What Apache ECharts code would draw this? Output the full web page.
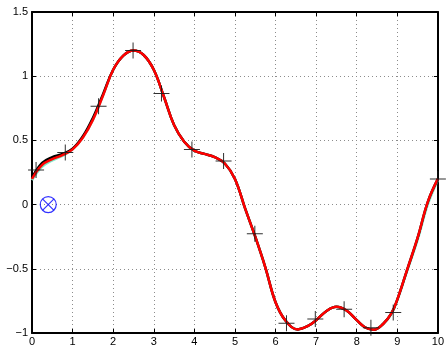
<!DOCTYPE html>
<html>
<head>
<meta charset="utf-8">
<script src="https://cdn.jsdelivr.net/npm/echarts@6/dist/echarts.min.js"></script>
<style>html,body{margin:0;padding:0;background:#fff}#c{width:447px;height:347px}</style>
</head>
<body>
<div id="c"></div>
<script>
// ---- data ----
var curveX = [0,0.25,0.5,0.75,1.0,1.25,1.5,1.75,2.0,2.25,2.5,2.75,3.0,3.25,3.5,3.75,4.0,4.25,4.5,4.75,5.0,5.25,5.5,5.75,6.0,6.25,6.55,6.8,7.0,7.25,7.5,7.75,8.0,8.2,8.42,8.65,8.85,9.0,9.25,9.5,9.75,10];
var redY   = [0.2,0.31,0.355,0.385,0.43,0.52,0.66,0.85,1.05,1.16,1.2,1.165,1.05,0.84,0.62,0.49,0.42,0.395,0.37,0.32,0.2,-0.03,-0.25,-0.49,-0.76,-0.905,-0.972,-0.945,-0.9,-0.83,-0.795,-0.825,-0.9,-0.955,-0.975,-0.93,-0.85,-0.74,-0.5,-0.26,0.02,0.2];
var blackY = [0.21,0.325,0.37,0.395,0.435,0.53,0.675,0.86,1.05,1.16,1.2,1.165,1.05,0.84,0.62,0.49,0.42,0.395,0.37,0.32,0.2,-0.03,-0.25,-0.49,-0.76,-0.905,-0.972,-0.945,-0.9,-0.83,-0.795,-0.825,-0.9,-0.955,-0.975,-0.93,-0.85,-0.74,-0.5,-0.26,0.02,0.2];
var greenY = [0.19,0.295,0.345,0.38,0.43,0.52,0.66,0.85,1.05,1.16,1.2,1.165,1.05,0.84,0.62,0.49,0.42,0.395,0.37,0.32,0.2,-0.03,-0.25,-0.49,-0.76,-0.905,-0.972,-0.945,-0.9,-0.83,-0.795,-0.825,-0.9,-0.955,-0.975,-0.93,-0.855,-0.745,-0.51,-0.275,0.0,0.19];
var markerX = [0.1,0.82,1.64,2.49,3.19,3.94,4.72,5.49,6.27,6.98,7.69,8.35,8.9,10];
var markerY = [0.27,0.405,0.765,1.2,0.865,0.43,0.34,-0.227,-0.925,-0.89,-0.816,-0.96,-0.84,0.2];
var specialX = [0.4];
var specialY = [0];
var xTicks = [0,1,2,3,4,5,6,7,8,9,10];
var yTicks = [-1,-0.5,0,0.5,1,1.5];

function pairs(xs, ys){ return xs.map(function(x,i){return [x, ys[i]];}); }

var chart = echarts.init(document.getElementById('c'), null, {renderer:'canvas'});
var font = 'Liberation Sans, Arial, sans-serif';
function fmtY(v){ return (v<0?'\u2212':'') + Math.abs(v); }

var baseX = {type:'value', min:xTicks[0], max:xTicks[xTicks.length-1], interval:1,
  axisLine:{show:true, onZero:false, lineStyle:{color:'#000', width:2}},
  axisTick:{show:true, inside:true, length:4, lineStyle:{color:'#000', width:1}},
  splitLine:{show:false}};
var baseY = {type:'value', min:yTicks[0], max:yTicks[yTicks.length-1], interval:0.5,
  axisLine:{show:true, onZero:false, lineStyle:{color:'#000', width:2}},
  axisTick:{show:true, inside:true, length:4, lineStyle:{color:'#000', width:1}},
  splitLine:{show:false}};

chart.setOption({
  backgroundColor:'#fff',
  animation:false,
  grid:{left:32, right:6, top:12, bottom:13, containLabel:false},
  xAxis:[
    Object.assign({}, baseX, {position:'bottom',
      axisLabel:{show:true, margin:3, fontSize:11, color:'#000', fontFamily:font},
      splitLine:{show:true, lineStyle:{color:'#8c8c8c', width:1, type:[1,3]}}}),
    Object.assign({}, baseX, {position:'top', axisLabel:{show:false}})
  ],
  yAxis:[
    Object.assign({}, baseY, {position:'left',
      axisLabel:{show:true, margin:4, fontSize:11, color:'#000', fontFamily:font, formatter:fmtY},
      splitLine:{show:true, lineStyle:{color:'#8c8c8c', width:1, type:[1,3]}}}),
    Object.assign({}, baseY, {position:'right', axisLabel:{show:false}})
  ],
  series:[
    {type:'line', data:pairs(curveX, greenY), smooth:0.4, showSymbol:false, symbol:'none',
      lineStyle:{color:'#7fe8c8', width:2.5}, z:2},
    {type:'line', data:pairs(curveX, blackY), smooth:0.4, showSymbol:false, symbol:'none',
      lineStyle:{color:'#000', width:2.5}, z:3},
    {type:'line', data:pairs(curveX, redY), smooth:0.4, showSymbol:false, symbol:'none',
      lineStyle:{color:'#ff0000', width:2.5}, z:4},
    {type:'scatter', data:pairs(markerX, markerY),
      symbol:'path://M0,7.5L16,7.5L16,8.5L0,8.5Z M7.5,0L8.5,0L8.5,16L7.5,16Z',
      symbolSize:16, itemStyle:{color:'#1a1a1a', opacity:0.9}, z:5},
    {type:'scatter', data:pairs(specialX, specialY), symbol:'circle', symbolSize:16,
      itemStyle:{color:'rgba(0,0,0,0)', borderColor:'#0000ff', borderWidth:1.2}, z:6},
    {type:'scatter', data:pairs(specialX, specialY), symbol:'path://M0,0L10,10M10,0L0,10',
      symbolSize:11, itemStyle:{color:'none', borderColor:'#0000ff', borderWidth:1.2}, z:6}
  ]
});
</script>
</body>
</html>
